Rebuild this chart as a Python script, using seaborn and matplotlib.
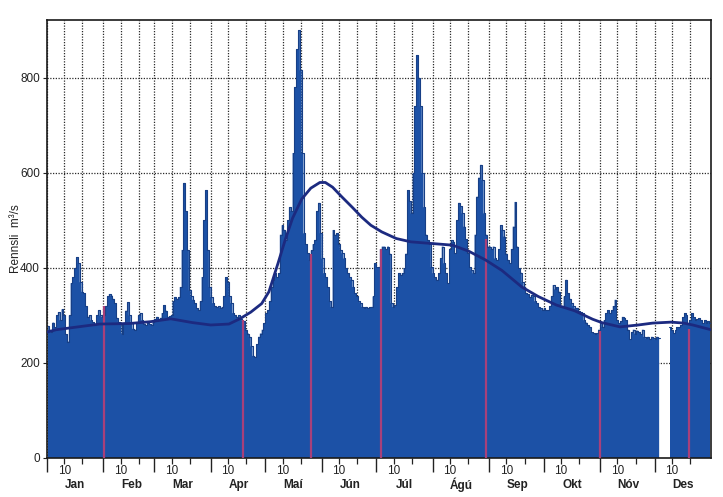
import numpy as np
import pandas as pd
import matplotlib
matplotlib.use("Agg")
import matplotlib.pyplot as plt
import matplotlib.transforms as mtransforms
import seaborn as sns

# ---- data (daily discharge, m3/s) ----
jan = [278, 270, 265, 285, 275, 300, 307, 290, 313, 300, 260, 245, 300, 368, 380, 400,
       423, 410, 370, 350, 347, 320, 297, 300, 290, 286, 280, 300, 311, 300, 297]
feb = [300, 320, 340, 345, 342, 335, 326, 295, 286, 283, 262, 285, 310, 328, 300, 285,
       272, 270, 285, 300, 305, 290, 283, 280, 285, 282, 280, 286]
mar = [292, 297, 290, 295, 305, 322, 310, 297, 298, 300, 330, 339, 335, 338, 360, 438,
       579, 520, 438, 353, 340, 333, 326, 315, 311, 330, 381, 500, 564, 438, 360]
apr = [339, 326, 320, 318, 320, 316, 318, 340, 381, 371, 340, 326, 305, 300, 297, 300,
       292, 290, 288, 270, 262, 255, 235, 215, 213, 240, 255, 262, 270, 284]
mai = [305, 311, 330, 360, 375, 389, 380, 389, 470, 490, 480, 459, 500, 528, 520, 642,
       781, 860, 900, 816, 642, 473, 450, 431, 417, 437, 450, 459, 520, 537, 473]
jun = [420, 389, 380, 360, 330, 318, 480, 470, 473, 450, 438, 431, 420, 400, 389, 380,
       375, 360, 347, 340, 330, 326, 318, 316, 318, 316, 317, 318, 340, 410]
jul = [402, 402, 440, 445, 445, 440, 445, 430, 326, 318, 322, 360, 389, 385, 389, 400,
       430, 564, 540, 515, 600, 740, 848, 800, 740, 600, 528, 470, 459, 450, 402]
agu = [389, 380, 375, 389, 420, 445, 410, 389, 368, 440, 459, 455, 431, 500, 537, 530,
       515, 487, 460, 431, 402, 395, 389, 470, 550, 590, 617, 585, 515, 470, 445]
sep = [445, 440, 445, 420, 417, 440, 490, 480, 466, 430, 417, 410, 440, 487, 539, 445,
       400, 390, 370, 360, 347, 345, 339, 343, 340, 330, 326, 318, 315, 311]
okt = [315, 311, 311, 320, 340, 364, 355, 360, 350, 318, 320, 340, 375, 347, 335, 326,
       320, 315, 316, 310, 307, 305, 290, 285, 280, 276, 265, 263, 262, 263, 270]
nov = [285, 276, 290, 305, 311, 305, 311, 320, 333, 290, 284, 288, 297, 295, 290, 270,
       250, 265, 270, 262, 268, 265, 260, 270, 255, 252, 255, 250, 255, 252]
des = [250, 255, 252, np.nan, np.nan, np.nan, np.nan, np.nan, 276, 270, 263, 270, 276,
       276, 280, 297, 305, 300, 285, 290, 305, 297, 290, 292, 295, 290, 285, 290, 284,
       288, 285]

# long-term mean curve (day of year, m3/s)
mean_day = [0, 5, 15, 29, 45, 57, 68, 80, 90, 100, 106, 112, 118, 122, 127, 131, 135,
            140, 145, 150, 153, 157, 162, 168, 173, 178, 184, 192, 200, 210, 223, 232,
            241, 250, 261, 270, 280, 290, 300, 305, 315, 325, 333, 343, 350, 355, 365]
mean_val = [265, 270, 275, 282, 283, 287, 293, 285, 280, 282, 293, 307, 325, 350, 410,
            460, 505, 545, 568, 580, 580, 570, 550, 527, 507, 490, 476, 462, 455, 452,
            448, 435, 417, 395, 360, 340, 322, 310, 292, 285, 276, 280, 284, 286, 284,
            280, 270]

# discharge measurements (day of year, m3/s)
meas_day = [31.3, 107.7, 145.0, 183.5, 241.2, 303.8, 352.7]
meas_val = [320, 290, 430, 440, 460, 268, 272]

month_names = ["Jan", "Feb", "Mar", "Apr", "Maí", "Jún", "Júl", "Ágú", "Sep", "Okt", "Nóv", "Des"]
month_len = [31, 28, 31, 30, 31, 30, 31, 31, 30, 31, 30, 31]
yticks = [0, 200, 400, 600, 800]

# ---- build ----
flow = np.array(jan + feb + mar + apr + mai + jun + jul + agu + sep + okt + nov + des, dtype=float)
df = pd.DataFrame({"day": np.arange(len(flow)) + 0.5, "flow": flow})
mdf = pd.DataFrame({"day": mean_day, "mean": mean_val})

sns.set_theme(style="white")
plt.rcParams["font.family"] = ["Liberation Sans", "DejaVu Sans"]

fig = plt.figure(figsize=(7.23, 4.97), dpi=100)
ax = fig.add_axes([47 / 723, 39 / 497, 664 / 723, 438 / 497])

month_start = np.concatenate([[0], np.cumsum(month_len)[:-1]])
grid_x = []
for s in month_start:
    grid_x += [s, s + 9.5, s + 19.5]

# grid
for gx in grid_x:
    ax.axvline(gx, color="#2a2a2a", lw=0.9, ls=(0, (1, 1.2)), zorder=0)
for gy in yticks[1:]:
    ax.axhline(gy, color="#2a2a2a", lw=0.9, ls=(0, (1, 1.2)), zorder=0)

# daily flow
ax.fill_between(df["day"], 0, df["flow"], step="mid", color="#1c51a6", lw=0, zorder=2)
ax.plot(df["day"], df["flow"], color="#173f86", lw=0.8, drawstyle="steps-mid", zorder=3)

# measurement lines
ax.vlines(meas_day, 0, meas_val, color="#a8407a", lw=1.6, zorder=4)

# mean curve
sns.lineplot(data=mdf, x="day", y="mean", ax=ax, color="#1c2a80", lw=2.0, zorder=5)

ax.set_xlim(0, 365)
ax.set_ylim(0, 922)
ax.set_xlabel("")
ax.set_ylabel("Rennsli  m³/s", fontsize=8.5, color="#222222", labelpad=-1)

ax.set_yticks(yticks)
ax.set_yticklabels([str(v) for v in yticks], fontsize=8.5, color="#222222")
ax.tick_params(axis="y", length=3, width=0.8, color="#222222", pad=2, left=True)

ax.set_xticks(month_start)
ax.set_xticklabels([])
ax.tick_params(axis="x", which="major", length=10, width=1.0, color="#222222", bottom=True)
minor = [s + 9.5 for s in month_start] + [s + 19.5 for s in month_start]
ax.set_xticks(minor, minor=True)
ax.set_xticklabels(["10"] * 12 + [""] * 12, minor=True, fontsize=8.5, color="#222222")
ax.tick_params(axis="x", which="minor", length=4, width=0.9, color="#222222", pad=1, bottom=True)

trans = mtransforms.blended_transform_factory(ax.transData, ax.transAxes)
for s, name in zip(month_start, month_names):
    ax.text(s + 15.5, -0.062, name, transform=trans, ha="center", va="center",
            fontsize=8.5, fontweight="bold", color="#222222")

for sp in ax.spines.values():
    sp.set_color("#1a1a1a")
    sp.set_linewidth(1.2)

fig.savefig("out.png", dpi=100)
